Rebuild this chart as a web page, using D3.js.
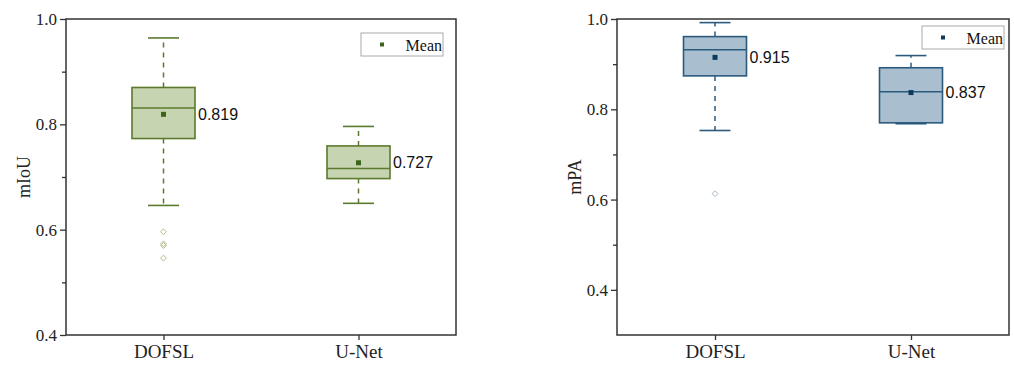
<!DOCTYPE html>
<html>
<head>
<meta charset="utf-8">
<script src="https://cdn.jsdelivr.net/npm/d3@7"></script>
<style>
    body { margin: 0; background: #fff; }
    svg { display: block; }
</style>
</head>
<body>
<div id="chart"></div>
<script>
// categories
const categories = ["DOFSL", "U-Net"];

// mIoU box stats (left panel)
const miouLow = [0.646, 0.650];
const miouQ1 = [0.773, 0.697];
const miouMedian = [0.831, 0.716];
const miouQ3 = [0.870, 0.759];
const miouHigh = [0.964, 0.796];
const miouMean = [0.819, 0.727];
const miouOutliers = [[0.596, 0.573, 0.570, 0.546], []];

// mPA box stats (right panel)
const mpaLow = [0.753, 0.768];
const mpaQ1 = [0.874, 0.770];
const mpaMedian = [0.932, 0.839];
const mpaQ3 = [0.961, 0.892];
const mpaHigh = [0.992, 0.919];
const mpaMean = [0.915, 0.837];
const mpaOutliers = [[0.613], []];

// tick labels
const miouTicks = [0.4, 0.6, 0.8, 1.0];
const miouMinor = [0.5, 0.7, 0.9];
const mpaTicks = [0.4, 0.6, 0.8, 1.0];
const mpaMinor = [0.5, 0.7, 0.9];

const serif = '"Liberation Serif", "Times New Roman", serif';
const sans = '"Liberation Sans", Arial, sans-serif';

const svg = d3.select('#chart').append('svg')
    .attr('width', 1014)
    .attr('height', 369);

function toRows(low, q1, med, q3, high, mean, outliers) {
    return categories.map((c, i) => ({
        name: c, low: low[i], q1: q1[i], median: med[i], q3: q3[i],
        high: high[i], mean: mean[i], outliers: outliers[i]
    }));
}

box_panel(svg, {
    left: 66, top: 19, right: 456, bottom: 335,
    domain: [0.4, 1.0],
    ticks: miouTicks, minor: miouMinor,
    label: 'mIoU', labelX: 24,
    rows: toRows(miouLow, miouQ1, miouMedian, miouQ3, miouHigh, miouMean, miouOutliers),
    fill: '#c6d4b1', stroke: '#5b7a2d', meanColor: '#3c6619', outlier: '#b9b98f',
    legend: { x: 361, y: 33, w: 82, h: 23 }
});

box_panel(svg, {
    left: 617, top: 19, right: 1009, bottom: 335,
    domain: [0.3, 1.0],
    ticks: mpaTicks, minor: mpaMinor,
    label: 'mPA', labelX: 575,
    rows: toRows(mpaLow, mpaQ1, mpaMedian, mpaQ3, mpaHigh, mpaMean, mpaOutliers),
    fill: '#a9bfd0', stroke: '#2b5a7d', meanColor: '#0d3b5e', outlier: '#a9b9c6',
    legend: { x: 922, y: 26, w: 82, h: 23 }
});

function box_panel(svg, p) {
    const g = svg.append('g');

    const y = d3.scaleLinear().domain(p.domain).range([p.bottom, p.top]);
    const x = d3.scalePoint().domain(categories).range([p.left, p.right]).padding(0.5);
    const boxW = 63;
    const capW = 31;

    // minor ticks
    g.append('g')
        .attr('transform', `translate(${p.left},0)`)
        .call(d3.axisLeft(y).tickValues(p.minor).tickSize(4).tickFormat(''))
        .call(a => a.select('.domain').remove())
        .call(a => a.selectAll('line').attr('stroke', '#333').attr('stroke-width', 1.3));

    // major y axis
    g.append('g')
        .attr('transform', `translate(${p.left},0)`)
        .call(d3.axisLeft(y).tickValues(p.ticks).tickSize(6).tickPadding(3).tickFormat(d3.format('.1f')))
        .call(a => a.select('.domain').remove())
        .call(a => a.selectAll('line').attr('stroke', '#333').attr('stroke-width', 1.3))
        .call(a => a.selectAll('text')
            .style('font-family', serif).style('font-size', '17px').attr('fill', '#222'));

    // x axis
    g.append('g')
        .attr('transform', `translate(0,${p.bottom})`)
        .call(d3.axisBottom(x).tickSize(5).tickPadding(5))
        .call(a => a.select('.domain').remove())
        .call(a => a.selectAll('line').attr('stroke', '#333').attr('stroke-width', 1.3))
        .call(a => a.selectAll('text')
            .style('font-family', serif).style('font-size', '19px').attr('fill', '#222'));

    // frame
    g.append('rect')
        .attr('x', p.left).attr('y', p.top)
        .attr('width', p.right - p.left).attr('height', p.bottom - p.top)
        .attr('fill', 'none').attr('stroke', '#333').attr('stroke-width', 1.5);

    // axis title
    g.append('text')
        .attr('transform', `translate(${p.labelX},${(p.top + p.bottom) / 2}) rotate(-90)`)
        .attr('text-anchor', 'middle')
        .attr('dominant-baseline', 'central')
        .style('font-family', serif)
        .style('font-size', '18px')
        .attr('fill', '#222')
        .text(p.label);

    const boxes = g.selectAll('.box').data(p.rows).join('g').attr('class', 'box');

    // whiskers (dashed)
    boxes.append('line')
        .attr('x1', d => x(d.name)).attr('x2', d => x(d.name))
        .attr('y1', d => y(d.q3)).attr('y2', d => y(d.high))
        .attr('stroke', p.stroke).attr('stroke-width', 1.5).attr('stroke-dasharray', '5,5');
    boxes.append('line')
        .attr('x1', d => x(d.name)).attr('x2', d => x(d.name))
        .attr('y1', d => y(d.q1)).attr('y2', d => y(d.low))
        .attr('stroke', p.stroke).attr('stroke-width', 1.5).attr('stroke-dasharray', '5,5');

    // caps
    ['high', 'low'].forEach(k => {
        boxes.append('line')
            .attr('x1', d => x(d.name) - capW / 2).attr('x2', d => x(d.name) + capW / 2)
            .attr('y1', d => y(d[k])).attr('y2', d => y(d[k]))
            .attr('stroke', p.stroke).attr('stroke-width', 1.6);
    });

    // box
    boxes.append('rect')
        .attr('x', d => x(d.name) - boxW / 2)
        .attr('y', d => y(d.q3))
        .attr('width', boxW)
        .attr('height', d => y(d.q1) - y(d.q3))
        .attr('fill', p.fill)
        .attr('stroke', p.stroke).attr('stroke-width', 1.6);

    // median
    boxes.append('line')
        .attr('x1', d => x(d.name) - boxW / 2).attr('x2', d => x(d.name) + boxW / 2)
        .attr('y1', d => y(d.median)).attr('y2', d => y(d.median))
        .attr('stroke', p.stroke).attr('stroke-width', 1.6);

    // mean marker
    boxes.append('rect')
        .attr('x', d => x(d.name) - 2.5).attr('y', d => y(d.mean) - 2.5)
        .attr('width', 5).attr('height', 5)
        .attr('fill', p.meanColor);

    // mean label
    boxes.append('text')
        .attr('x', d => x(d.name) + boxW / 2 + 3)
        .attr('y', d => y(d.mean))
        .attr('dominant-baseline', 'central')
        .style('font-family', sans)
        .style('font-size', '16px')
        .attr('fill', '#111')
        .text(d => d.mean.toFixed(3));

    // outliers
    boxes.each(function (d) {
        d3.select(this).selectAll('.out').data(d.outliers).join('path')
            .attr('class', 'out')
            .attr('d', d3.symbol(d3.symbolDiamond2, 22))
            .attr('transform', v => `translate(${x(d.name)},${y(v)})`)
            .attr('fill', 'none')
            .attr('stroke', p.outlier).attr('stroke-width', 1);
    });

    // legend
    const lg = g.append('g').attr('transform', `translate(${p.legend.x},${p.legend.y})`);
    lg.append('rect')
        .attr('width', p.legend.w).attr('height', p.legend.h)
        .attr('fill', '#fff').attr('stroke', '#aaa').attr('stroke-width', 1);
    lg.append('rect')
        .attr('x', 19).attr('y', p.legend.h / 2 - 2)
        .attr('width', 4).attr('height', 4)
        .attr('fill', p.meanColor);
    lg.append('text')
        .attr('x', p.legend.w - 1).attr('y', p.legend.h / 2 + 1)
        .attr('text-anchor', 'end')
        .attr('dominant-baseline', 'central')
        .style('font-family', serif)
        .style('font-size', '16px')
        .attr('fill', '#111')
        .text('Mean');
}
</script>
</body>
</html>
